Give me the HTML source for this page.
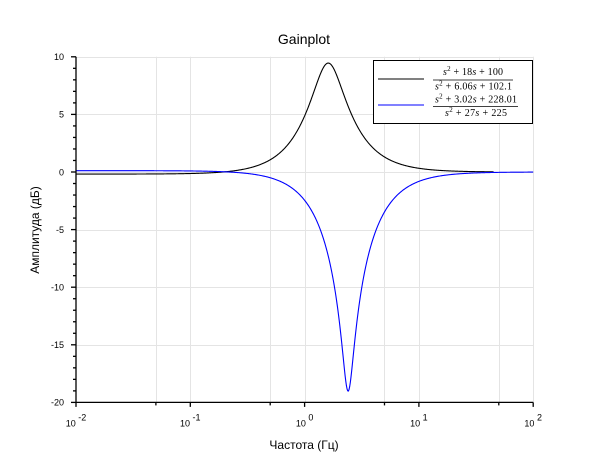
<!DOCTYPE html>
<html>
<head>
<meta charset="utf-8">
<style>
html,body{margin:0;padding:0;background:#fff;}
svg{display:block;}
text{font-family:"Liberation Sans",sans-serif;fill:#000;}
.ser{font-family:"Liberation Serif",serif;}
</style>
</head>
<body>
<svg id="chart" width="610" height="460" viewBox="0 0 610 460" xmlns="http://www.w3.org/2000/svg">
  <rect x="0" y="0" width="610" height="460" fill="#fff"/>
  <g id="grid" stroke="#e4e4e4" stroke-width="1"></g>
  <g id="curves" fill="none" stroke-width="1.1" stroke-linejoin="round">
    <path id="c1" stroke="#000"/>
    <path id="c2" stroke="#0000ff"/>
  </g>
  <g id="axes" stroke="#000" stroke-width="1.3"></g>
  <g id="labels" font-size="9"></g>

  <text x="304" y="44" font-size="14" text-anchor="middle">Gainplot</text>
  <text x="304" y="449" font-size="12" text-anchor="middle">Частота (Гц)</text>
  <text transform="translate(39,230) rotate(-90)" font-size="12" text-anchor="middle">Амплитуда (дБ)</text>

  <!-- legend -->
  <rect x="373.5" y="60.5" width="159" height="63" fill="#fff" stroke="#000" stroke-width="1"/>
  <line x1="378" y1="79" x2="424" y2="79" stroke="#000" stroke-width="1"/>
  <line x1="378" y1="105" x2="424" y2="105" stroke="#0000ff" stroke-width="1"/>
  <line x1="433" y1="80" x2="513" y2="80" stroke="#000" stroke-width="0.8"/>
  <line x1="433" y1="106.5" x2="518" y2="106.5" stroke="#000" stroke-width="0.8"/>
  <text class="ser" font-size="10" x="443" y="75" textLength="60"><tspan font-style="italic">s</tspan><tspan font-size="7" dy="-4">2</tspan><tspan dy="4"> + 18</tspan><tspan font-style="italic">s</tspan> + 100</text>
  <text class="ser" font-size="10" x="435" y="89.5" textLength="77"><tspan font-style="italic">s</tspan><tspan font-size="7" dy="-4">2</tspan><tspan dy="4"> + 6.06</tspan><tspan font-style="italic">s</tspan> + 102.1</text>
  <text class="ser" font-size="10" x="435" y="102.5" textLength="82"><tspan font-style="italic">s</tspan><tspan font-size="7" dy="-4">2</tspan><tspan dy="4"> + 3.02</tspan><tspan font-style="italic">s</tspan> + 228.01</text>
  <text class="ser" font-size="10" x="445" y="116" textLength="62"><tspan font-style="italic">s</tspan><tspan font-size="7" dy="-4">2</tspan><tspan dy="4"> + 27</tspan><tspan font-style="italic">s</tspan> + 225</text>
</svg>
<script>
(function(){
  var NS="http://www.w3.org/2000/svg";
  var X0=76, DEC=114.3, Y0=172, DB=11.52;
  function X(f){return X0+(Math.log10(f)+2)*DEC;}
  function Y(d){return Y0-d*DB;}
  function el(tag,attrs,parent,txt){var e=document.createElementNS(NS,tag);for(var k in attrs)e.setAttribute(k,attrs[k]);if(txt!==undefined)e.textContent=txt;parent.appendChild(e);return e;}
  var grid=document.getElementById('grid'), axes=document.getElementById('axes'), labels=document.getElementById('labels');
  var top=Y(10), bot=Y(-20), left=X(0.01), right=X(100);
  // vertical grid at 1 and 5 per decade
  var vf=[0.05,0.1,0.5,1,5,10,50,100];
  vf.forEach(function(f){var x=Math.round(X(f))+0.5;el('line',{x1:x,y1:top,x2:x,y2:bot},grid);});
  [10,5,0,-5,-10,-15].forEach(function(d){var y=Math.round(Y(d))+0.5;el('line',{x1:left,y1:y,x2:right,y2:y},grid);});
  // axes
  el('line',{x1:left,y1:top,x2:left,y2:bot+0.5},axes);
  el('line',{x1:left,y1:bot,x2:right,y2:bot},axes);
  // y ticks
  for(var d=-20; d<=10; d++){
    var y=Y(d); var major=(d%5===0);
    el('line',{x1:left-(major?5:3),y1:y,x2:left,y2:y},axes);
    if(major){el('text',{x:64,y:y+3.3,'text-anchor':'end'},labels,String(d));}
  }
  // x ticks
  for(var e=-2;e<=2;e++){
    var x=X(Math.pow(10,e));
    el('line',{x1:x,y1:bot,x2:x,y2:bot+4.5},axes);
    var t=el('text',{x:x,y:426.5,'text-anchor':'middle'},labels);
    var a=document.createElementNS(NS,'tspan');a.textContent='10';t.appendChild(a);
    var b=document.createElementNS(NS,'tspan');b.setAttribute('dx','2.5');b.setAttribute('dy','-6');b.textContent=String(e);t.appendChild(b);
    if(e<2){var xm=X(5*Math.pow(10,e));el('line',{x1:xm,y1:bot,x2:xm,y2:bot+3},axes);}
  }
  function mag(f,n2,n1,n0,d2,d1,d0){
    var w=2*Math.PI*f, w2=w*w;
    var nr=n0-n2*w2, ni=n1*w, dr=d0-d2*w2, di=d1*w;
    return 10*Math.log10((nr*nr+ni*ni)/(dr*dr+di*di));
  }
  function path(fmax,fn){
    var s='', N=700, l0=-2, l1=Math.log10(fmax);
    for(var i=0;i<=N;i++){
      var f=Math.pow(10,l0+(l1-l0)*i/N);
      s+=(i?'L':'M')+X(f).toFixed(2)+' '+Y(fn(f)).toFixed(2);
    }
    return s;
  }
  document.getElementById('c1').setAttribute('d',path(45,function(f){return mag(f,1,18,100,1,6.06,102.1);}));
  document.getElementById('c2').setAttribute('d',path(100,function(f){return mag(f,1,3.02,228.01,1,27,225);}));
})();
</script>
</body>
</html>
